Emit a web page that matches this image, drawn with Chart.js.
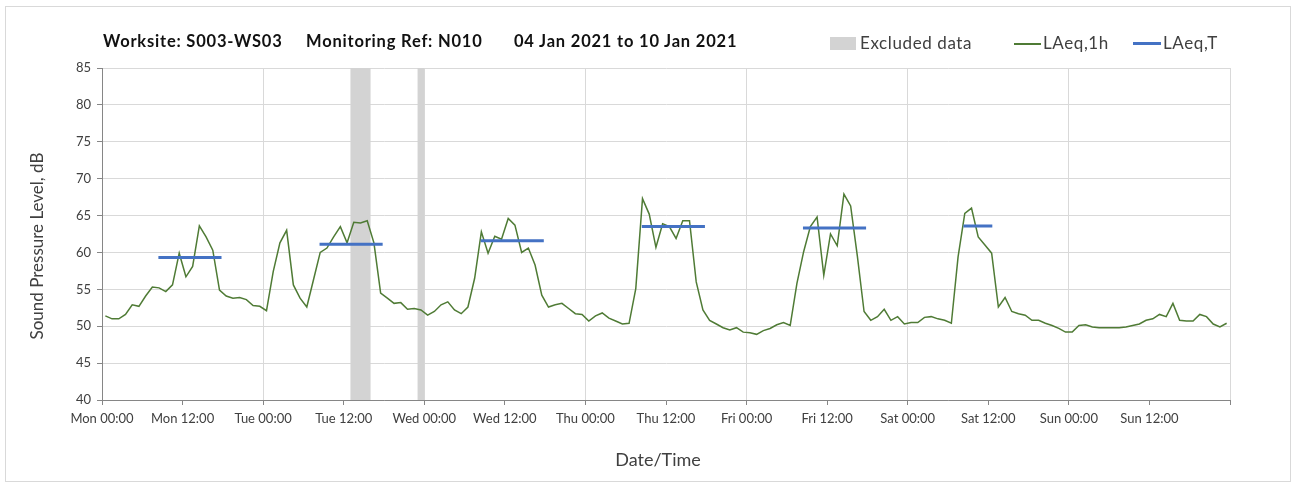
<!DOCTYPE html>
<html>
<head>
<meta charset="utf-8">
<script src="https://cdn.jsdelivr.net/npm/chart.js@4.4.0/dist/chart.umd.min.js"></script>
<style>
html,body{margin:0;padding:0;background:#fff;}
#wrap{position:relative;width:1301px;height:490px;overflow:hidden;}
#frame{position:absolute;left:5px;top:6px;width:1286px;height:476px;border:1px solid #d9d9d9;box-sizing:border-box;}
#c{position:absolute;left:0;top:0;}
.t{position:absolute;top:31px;font-family:Lato,'Open Sans',sans-serif;font-weight:bold;font-size:16.5px;letter-spacing:0.8px;color:#111;white-space:nowrap;}
.lg{position:absolute;top:32px;font-family:Lato,'Open Sans',sans-serif;font-size:17px;letter-spacing:0.6px;color:#404040;white-space:nowrap;}
.sw{position:absolute;}
</style>
</head>
<body>
<div id="wrap">
  <div id="frame"></div>
  <canvas id="c" width="1301" height="490"></canvas>
  <div class="t" style="left:103px">Worksite: S003-WS03</div>
  <div class="t" style="left:306px">Monitoring Ref: N010</div>
  <div class="t" style="left:514px">04 Jan 2021 to 10 Jan 2021</div>
  <div class="sw" style="left:830px;top:37px;width:26px;height:13px;background:#d3d3d3"></div>
  <div class="lg" style="left:860px">Excluded data</div>
  <div class="sw" style="left:1014px;top:43px;width:27px;height:1.5px;background:#4F7B35"></div>
  <div class="lg" style="left:1043px">LAeq,1h</div>
  <div class="sw" style="left:1133px;top:42px;width:28px;height:3px;background:#4472C4"></div>
  <div class="lg" style="left:1163px">LAeq,T</div>
</div>
<script>
// Hourly LAeq,1h values (dB), one array per day, starting 00:00
const monLAeq1h = [51.4, 51.0, 51.0, 51.6, 52.9, 52.7, 54.1, 55.3, 55.2, 54.7, 55.6, 59.9, 56.7, 58.1, 63.6, 62.1, 60.3, 54.9, 54.1, 53.8, 53.9, 53.6, 52.8, 52.7];
const tueLAeq1h = [52.1, 57.4, 61.3, 63.0, 55.6, 53.8, 52.6, 56.3, 60.0, 60.6, 62.1, 63.5, 61.3, 64.1, 64.0, 64.3, 61.3, 54.5, 53.8, 53.1, 53.2, 52.3, 52.4, 52.2];
const wedLAeq1h = [51.5, 52.0, 52.9, 53.3, 52.2, 51.7, 52.6, 56.5, 62.8, 59.9, 62.2, 61.8, 64.6, 63.7, 60.0, 60.6, 58.3, 54.2, 52.6, 52.9, 53.1, 52.4, 51.7, 51.6];
const thuLAeq1h = [50.7, 51.4, 51.8, 51.1, 50.7, 50.3, 50.4, 55.1, 67.3, 65.2, 60.7, 63.9, 63.5, 61.9, 64.3, 64.3, 56.0, 52.2, 50.8, 50.3, 49.8, 49.5, 49.8, 49.2];
const friLAeq1h = [49.1, 48.9, 49.4, 49.7, 50.2, 50.5, 50.1, 55.8, 60.1, 63.5, 64.8, 56.9, 62.5, 60.9, 67.9, 66.3, 59.5, 52.0, 50.8, 51.3, 52.3, 50.8, 51.3, 50.3];
const satLAeq1h = [50.5, 50.5, 51.2, 51.3, 51.0, 50.8, 50.4, 59.4, 65.3, 66.0, 62.1, 61.0, 59.9, 52.6, 53.9, 52.0, 51.7, 51.5, 50.8, 50.8, 50.4, 50.1, 49.7, 49.2];
const sunLAeq1h = [49.2, 50.1, 50.2, 49.9, 49.8, 49.8, 49.8, 49.8, 49.9, 50.1, 50.3, 50.8, 51.0, 51.6, 51.3, 53.1, 50.8, 50.7, 50.7, 51.6, 51.3, 50.3, 49.9, 50.4];

// LAeq,T daytime period values (hours from Mon 00:00)
const laeqTValues = [59.3, 61.1, 61.6, 63.5, 63.3, 63.6];
const laeqTStart  = [8.4, 32.4, 56.4, 80.4, 104.4, 128.3];
const laeqTEnd    = [17.8, 41.8, 65.8, 89.8, 113.8, 132.6];

// Excluded data periods (hours from Mon 00:00)
const excludedFrom = [37, 47];
const excludedTo   = [40, 48];

// X tick labels every 12 hours
const tickHours  = [0, 12, 24, 36, 48, 60, 72, 84, 96, 108, 120, 132, 144, 156, 168];
const tickLabels = ['Mon 00:00','Mon 12:00','Tue 00:00','Tue 12:00','Wed 00:00','Wed 12:00','Thu 00:00','Thu 12:00','Fri 00:00','Fri 12:00','Sat 00:00','Sat 12:00','Sun 00:00','Sun 12:00',''];
const yTicks = [40, 45, 50, 55, 60, 65, 70, 75, 80, 85];
const xTitle = 'Date/Time';
const yTitle = 'Sound Pressure Level, dB';

const hourly = [].concat(monLAeq1h, tueLAeq1h, wedLAeq1h, thuLAeq1h, friLAeq1h, satLAeq1h, sunLAeq1h);
const hourlyPts = hourly.map((v, i) => ({x: i + 0.5, y: v}));
const laeqTPts = [];
laeqTValues.forEach((v, i) => {
  laeqTPts.push({x: laeqTStart[i], y: v});
  laeqTPts.push({x: laeqTEnd[i], y: v});
  laeqTPts.push({x: laeqTEnd[i], y: null});
});

const bandPlugin = {
  id: 'bands',
  beforeDatasetsDraw(chart) {
    const {ctx, chartArea, scales} = chart;
    const x = scales.x;
    ctx.save();
    ctx.fillStyle = '#d3d3d3';
    excludedFrom.forEach((f, i) => {
      const a = x.getPixelForValue(f), b = x.getPixelForValue(excludedTo[i]);
      ctx.fillRect(a, chartArea.top, b - a, chartArea.bottom - chartArea.top);
    });
    ctx.restore();
  }
};

const axisTitlePlugin = {
  id: 'axisTitles',
  afterDraw(chart) {
    const ctx = chart.ctx;
    ctx.save();
    ctx.fillStyle = '#404040';
    ctx.textAlign = 'center';
    ctx.textBaseline = 'middle';
    ctx.font = "18px Lato, 'Open Sans', sans-serif";
    ctx.fillText(xTitle, 658, 460);
    ctx.translate(38, 246);
    ctx.rotate(-Math.PI / 2);
    ctx.font = "17px Lato, 'Open Sans', sans-serif";
    ctx.fillText(yTitle, 0, 0);
    ctx.restore();
  }
};

Chart.defaults.font.family = "Lato, 'Open Sans', sans-serif";
Chart.defaults.color = '#404040';

new Chart(document.getElementById('c'), {
  type: 'line',
  data: {
    datasets: [
      {label: 'LAeq,T', data: laeqTPts, borderColor: '#4472C4', borderWidth: 3, pointRadius: 0, spanGaps: false, borderCapStyle: 'butt', order: 0},
      {label: 'LAeq,1h', data: hourlyPts, borderColor: '#4F7B35', borderWidth: 1.5, pointRadius: 0, tension: 0, order: 1}
    ]
  },
  options: {
    responsive: false,
    animation: false,
    layout: {padding: {left: 24, right: 71, top: 68, bottom: 18}},
    plugins: {legend: {display: false}, title: {display: false}, tooltip: {enabled: false}},
    scales: {
      x: {
        type: 'linear', min: 0, max: 168,
        afterBuildTicks: (s) => { s.ticks = tickHours.map(v => ({value: v})); },
        afterFit: (s) => { s.height = 72; },
        ticks: {autoSkip: false, maxRotation: 0, minRotation: 0, padding: 6, font: {size: 13}, color: '#404040',
          callback: (v) => tickLabels[tickHours.indexOf(v)] ?? ''},
        grid: {color: (c) => (c.tick && c.tick.value % 24 === 0) ? '#d9d9d9' : 'rgba(0,0,0,0)', tickColor: '#868686', tickLength: 5, lineWidth: 1},
        border: {color: '#868686', width: 1},
        title: {display: false}
      },
      y: {
        min: 40, max: 85,
        afterBuildTicks: (s) => { s.ticks = yTicks.map(v => ({value: v})); },
        afterFit: (s) => { s.width = 78; },
        ticks: {padding: 6, font: {size: 13}, color: '#404040'},
        grid: {color: '#d9d9d9', tickColor: '#868686', tickLength: 5, lineWidth: 1},
        border: {color: '#868686', width: 1},
        title: {display: false}
      }
    }
  },
  plugins: [bandPlugin, axisTitlePlugin]
});
</script>
</body>
</html>
